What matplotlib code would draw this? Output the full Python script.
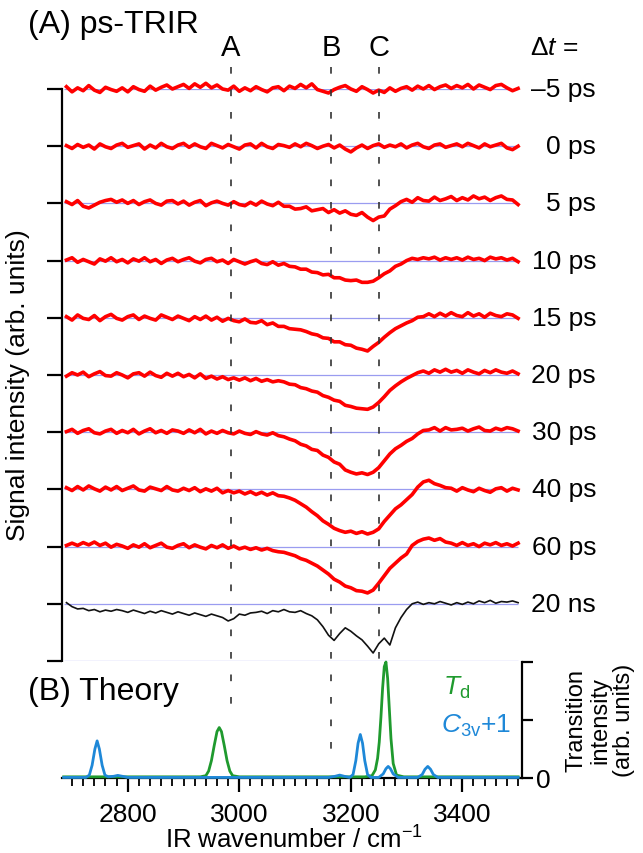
import numpy as np
import matplotlib
matplotlib.use("Agg")
import matplotlib.pyplot as plt
from matplotlib.lines import Line2D
from matplotlib.transforms import blended_transform_factory as blend

plt.rcParams['font.family'] = ['Liberation Sans', 'DejaVu Sans']
plt.rcParams['mathtext.fontset'] = 'custom'
plt.rcParams['mathtext.rm'] = 'Liberation Sans'
plt.rcParams['mathtext.it'] = 'Liberation Sans:italic'

# ---------------- data ----------------
wn = np.arange(2690, 3501, 10)  # sample positions (cm-1) of the TRIR traces

delay_labels = ['–5 ps', '0 ps', '5 ps', '10 ps', '15 ps', '20 ps', '30 ps', '40 ps', '60 ps', '20 ns']

# signal values in hundredths of the trace spacing
sig_m5ps = [4, -5, 2, -3, 6, -2, -6, 3, -1, -4,
            2, -5, 4, -1, -4, 5, -2, 3, 7, 0,
            4, 8, 1, 9, 3, 10, 2, 7, 0, -2,
            5, -4, 2, -3, 4, -1, -5, 2, 4, -3,
            5, 1, 8, 2, 9, -1, -4, -7, -1, 3,
            6, 0, -4, 4, -1, -7, -2, -6, 2, -4,
            1, 4, -2, 5, 0, 6, -1, 4, 7, 1,
            6, 2, 8, 0, 7, 3, -1, 6, 8, 2,
            -3, 1]
sig_0ps = [1, -4, 3, -2, 2, -5, 4, -1, -4, 2,
           5, -2, 1, 4, -5, 2, -3, 5, -1, -4,
           2, 5, -2, 4, -1, -4, 5, 1, -3, 3,
           -1, -5, 2, 4, -3, 5, -1, -4, 3, 1,
           -2, 4, -1, 5, 1, -4, 0, 3, -3, 2,
           -5, -10, -3, 2, -4, 1, 4, -2, 2, -1,
           4, -3, 2, 5, -1, -4, 2, 4, -2, 1,
           4, -1, 5, 1, -3, 4, -1, 2, 5, -3,
           -6, 0]
sig_5ps = [3, -2, 5, -5, -8, -3, 2, 5, 7, 2,
           6, 0, 5, -2, 3, 6, 0, -3, 4, 5,
           -1, 4, -3, 2, 5, -4, 1, 4, 0, -3,
           3, -2, -4, 2, -3, 4, -1, -4, 2, -5,
           -5, -10, -9, -6, -13, -11, -9, -16, -11, -17,
           -13, -19, -21, -16, -24, -30, -24, -22, -10, -4,
           3, 7, 2, 10, 5, 4, 11, 5, 8, 12,
           5, 10, 6, 13, 8, 11, 5, 10, 13, 7,
           6, -2]
sig_10ps = [1, 5, -3, 2, -2, -6, 3, -1, 5, -2,
            2, -4, 3, -1, 5, -2, 2, -5, 1, 4,
            -2, 2, 5, -1, -4, 2, 4, -2, 1, -5,
            2, -2, -6, -2, 1, -5, -7, -2, -8, -5,
            -10, -11, -15, -15, -20, -21, -25, -24, -30, -30,
            -34, -35, -34, -38, -38, -36, -30, -23, -18, -10,
            -6, 0, 4, 2, 5, 3, 6, 1, 5, 2,
            5, 1, 6, 2, 4, 0, 6, 3, 5, 1,
            4, -2]
sig_15ps = [2, -4, 5, -1, -3, 4, -5, 2, 6, -1,
            -4, 2, 5, -3, 3, -1, -4, 5, 1, -3,
            3, -1, -5, 2, -3, 3, -4, 1, -6, -1,
            -5, -7, -2, -8, -9, -5, -12, -9, -15, -15,
            -19, -20, -21, -24, -28, -30, -35, -36, -42, -42,
            -47, -48, -53, -55, -58, -50, -43, -34, -26, -19,
            -14, -9, -5, 1, 2, 7, 2, 8, 3, 9,
            4, 2, 9, 3, 7, 1, 8, 4, 2, 7,
            5, -1]
sig_20ps = [-2, 4, 0, 5, -3, 2, 6, -1, -2, 4,
            0, -5, 2, 4, -2, 5, -1, -4, 3, -2,
            3, -3, 1, -5, 2, -6, -2, -7, -3, -8,
            -5, -9, -5, -10, -6, -11, -8, -12, -10, -12,
            -16, -17, -22, -24, -28, -30, -36, -39, -44, -46,
            -53, -55, -58, -59, -60, -56, -48, -38, -27, -19,
            -12, -6, -1, 4, 7, 3, 9, 5, 10, 5,
            8, 3, 9, 5, 2, 8, 4, 9, 5, 3,
            7, 2]
sig_30ps = [1, 5, -2, 3, 6, -1, -3, 2, 5, -2,
            3, -1, 5, -3, 2, 6, -1, 3, -2, 4,
            2, -2, 4, -1, 5, -3, 2, -2, 3, -1,
            -3, 2, -2, -4, 1, -3, -5, -1, -6, -8,
            -12, -15, -21, -24, -30, -32, -40, -44, -52, -56,
            -66, -70, -73, -71, -74, -70, -62, -50, -38, -29,
            -23, -16, -11, -3, 3, 4, 8, 2, 8, 4,
            5, 7, 2, 6, 9, 3, 2, 7, 4, 8,
            6, 2]
sig_40ps = [3, -2, 5, -1, 6, 1, -3, 4, -1, 5,
            -2, 2, 6, -1, -3, 4, 1, -2, 5, -1,
            -3, 2, -2, 3, -4, 1, -3, 2, -6, -2,
            -6, -3, -8, -4, -9, -5, -10, -6, -11, -12,
            -15, -19, -25, -31, -39, -46, -55, -61, -68, -72,
            -75, -73, -77, -74, -78, -75, -69, -56, -45, -34,
            -27, -18, -9, 4, 13, 16, 10, 7, 3, 2,
            -3, 3, -1, -4, 2, -2, -5, 1, 3, -3,
            2, -1]
sig_60ps = [2, 6, 2, 7, 3, 8, 2, 6, -1, 4,
            1, -3, 3, -1, 5, -2, 2, 6, -1, -3,
            2, 5, -2, 3, -1, -4, 2, -2, 3, -3,
            1, -4, -1, -5, -2, -6, -3, -7, -9, -10,
            -13, -16, -21, -24, -29, -34, -41, -48, -57, -62,
            -69, -72, -77, -78, -81, -76, -64, -51, -38, -29,
            -20, -13, 2, 9, 13, 15, 11, 14, 8, 6,
            2, 7, 2, 5, 0, 6, 3, 7, 2, 5,
            1, 6]
sig_20ns = [2, -5, -9, -8, -12, -10, -14, -11, -13, -10,
            -12, -15, -11, -14, -17, -13, -16, -12, -15, -18,
            -14, -17, -20, -16, -19, -22, -18, -21, -24, -30,
            -26, -18, -20, -16, -15, -13, -17, -12, -14, -10,
            -14, -15, -12, -17, -21, -28, -40, -55, -64, -52,
            -42, -48, -56, -63, -74, -86, -70, -60, -72, -42,
            -24, -10, 0, 3, -1, 2, 0, 4, 1, -2,
            2, -1, 3, 0, 5, 2, 6, 1, 4, 3,
            5, 2]

traces = [sig_m5ps, sig_0ps, sig_5ps, sig_10ps, sig_15ps,
          sig_20ps, sig_30ps, sig_40ps, sig_60ps, sig_20ns]
trace_colors = ['#ff0000'] * 9 + ['#111111']

marker_labels = ['A', 'B', 'C']
marker_wn = [2985, 3165, 3250]

# theory spectra (B)
td_wn = [2685, 2930, 2940, 2945, 2950, 2955, 2960, 2964, 2968, 2973, 2978, 2983, 2988, 3000,
         3225, 3238, 3244, 3248, 3251, 3254, 3257, 3260, 3263, 3266, 3269, 3272, 3276, 3282, 3295, 3500]
td_int = [0.02, 0.02, 0.04, 0.12, 0.30, 0.56, 0.80, 0.87, 0.80, 0.56, 0.30, 0.12, 0.04, 0.02,
          0.02, 0.04, 0.14, 0.34, 0.62, 1.05, 1.55, 1.92, 2.00, 1.72, 1.20, 0.68, 0.25, 0.05, 0.02, 0.02]
c3v_wn = [2685, 2725, 2731, 2736, 2741, 2745, 2749, 2754, 2759, 2765, 2775, 2782, 2790, 2800,
          3160, 3172, 3180, 3188, 3198, 3204, 3209, 3213, 3217, 3221, 3225, 3230, 3236,
          3250, 3258, 3263, 3267, 3271, 3276, 3285,
          3320, 3328, 3333, 3338, 3343, 3348, 3356, 3500]
c3v_int = [0.01, 0.01, 0.05, 0.22, 0.50, 0.64, 0.50, 0.22, 0.05, 0.02, 0.03, 0.045, 0.03, 0.01,
           0.01, 0.03, 0.05, 0.03, 0.01, 0.06, 0.30, 0.60, 0.75, 0.60, 0.30, 0.06, 0.01,
           0.01, 0.07, 0.16, 0.20, 0.16, 0.07, 0.01,
           0.01, 0.06, 0.15, 0.20, 0.15, 0.06, 0.01, 0.01]

xticks_major = [2800, 3000, 3200, 3400]

# ---------------- figure ----------------
W, H = 643, 854
fig = plt.figure(figsize=(W / 100, H / 100), dpi=100)

def fx(px):
    return px / W

def fy(py):
    return 1 - py / H

xlim = (2682, 3507)
ax = fig.add_axes([fx(62), fy(662), fx(522) - fx(62), fy(90) - fy(662)])
axb = fig.add_axes([fx(62), fy(779), fx(522) - fx(62), fy(663) - fy(779)])

# ---- top panel ----
ax.set_xlim(*xlim)
ax.set_ylim(-10, 0)
for s in ['top', 'right', 'bottom']:
    ax.spines[s].set_visible(False)
ax.spines['left'].set_linewidth(1.6)
ax.set_yticks(np.arange(-10, 1, 1))
ax.set_yticklabels([])
ax.set_xticks([])
ax.tick_params(axis='y', direction='out', length=11, width=1.6)

ax.hlines(np.arange(-10, 1, 1), 2685, 3500, colors='#9a9cf0', linewidth=0.9, zorder=1)

for k, (sig, col) in enumerate(zip(traces, trace_colors)):
    y = -k + np.array(sig) / 100.0
    lw = 2.6 if col == '#ff0000' else 1.2
    ax.plot(wn, y, color=col, lw=lw, clip_on=False, zorder=3)

tr_lab = blend(fig.transFigure, ax.transData)
for k, lab in enumerate(delay_labels):
    fig.text(fx(596), -k, lab, transform=tr_lab, ha='right', va='center', fontsize=19)

fig.text(fx(530), fy(48), r'$\Delta\mathit{t}$ =', ha='left', va='center', fontsize=19)

# ---- bottom panel ----
axb.set_xlim(*xlim)
axb.set_ylim(0, 2.0)
for s in ['top', 'left']:
    axb.spines[s].set_visible(False)
axb.spines['bottom'].set_linewidth(1.6)
axb.spines['right'].set_linewidth(1.6)
axb.yaxis.tick_right()
axb.set_yticks([0, 1, 2])
axb.set_yticklabels(['0', '', ''])
axb.tick_params(axis='y', direction='out', length=8, width=1.6, labelsize=19, pad=2)
axb.set_xticks(xticks_major)
axb.set_xticklabels([str(v) for v in xticks_major])
axb.set_xticks(np.arange(2700, 3501, 20), minor=True)
axb.tick_params(axis='x', which='major', direction='out', length=10, width=1.6, labelsize=19, pad=7)
axb.tick_params(axis='x', which='minor', direction='out', length=6, width=1.3)
fig.text(fx(294), fy(849), 'IR wavenumber / cm$^{-1}$', fontsize=18.5, ha='center', va='baseline')

axb.plot(td_wn, td_int, color='#1f9a2e', lw=2.0, clip_on=False, zorder=3)
axb.plot(c3v_wn, c3v_int, color='#1e88d8', lw=2.0, clip_on=False, zorder=4)

fig.text(fx(443), fy(688), r'$\mathit{T}_{\mathrm{d}}$', color='#1f9a2e', fontsize=19, ha='left', va='center')
fig.text(fx(441), fy(726), r'$\mathit{C}_{\mathrm{3v}}$+1', color='#1e88d8', fontsize=19, ha='left', va='center')

fig.text(fx(600), fy(720), 'Transition\nintensity\n(arb. units)',
         rotation=90, ha='center', va='center', fontsize=17, linespacing=1.1)

# ---- dashed marker lines and labels ----
tr_x = blend(ax.transData, fig.transFigure)
marker_end = [fy(708), fy(752), fy(662)]
for w, lab, yend in zip(marker_wn, marker_labels, marker_end):
    fig.add_artist(Line2D([w, w], [fy(68), yend], transform=tr_x, color='#333333',
                          lw=1.2, linestyle=(0, (4, 9.5))))
    fig.text(w, fy(48), lab, transform=tr_x, ha='center', va='center', fontsize=21)

# ---- panel titles / labels ----
fig.text(fx(28), fy(25), '(A) ps-TRIR', ha='left', va='center', fontsize=23)
fig.text(fx(28), fy(692), '(B) Theory', ha='left', va='center', fontsize=23)
fig.text(fx(18), fy(385), 'Signal intensity (arb. units)', rotation=90,
         ha='center', va='center', fontsize=19)

fig.savefig('out.png', dpi=100, facecolor='white')
